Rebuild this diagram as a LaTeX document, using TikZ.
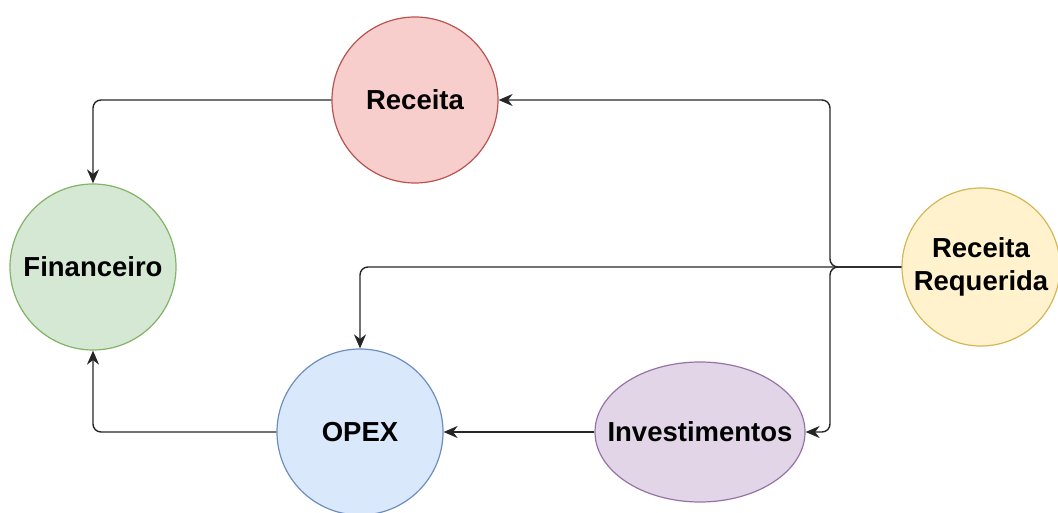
\documentclass[tikz,border=0pt]{standalone}
\usepackage{fontspec}
\setmainfont{Liberation Sans}
\usetikzlibrary{shapes.geometric,arrows.meta}

\definecolor{redfill}{HTML}{F8CECC}\definecolor{redline}{HTML}{B85450}
\definecolor{greenfill}{HTML}{D5E8D4}\definecolor{greenline}{HTML}{82B366}
\definecolor{bluefill}{HTML}{DAE8FC}\definecolor{blueline}{HTML}{6C8EBF}
\definecolor{purplefill}{HTML}{E1D5E7}\definecolor{purpleline}{HTML}{9673A6}
\definecolor{yellowfill}{HTML}{FFF2CC}\definecolor{yellowline}{HTML}{D6B656}

\tikzset{
  labelfont/.style={font=\fontsize{27.5}{33}\selectfont\bfseries},
  bubble/.style={circle, inner sep=0pt, line width=1.2pt, minimum size=166pt,
    align=center, labelfont},
  oval/.style={ellipse, inner sep=0pt, line width=1.2pt,
    minimum width=210pt, minimum height=140pt},
  link/.style={line width=1.4pt, draw=black!85,
    -{Stealth[length=14pt,width=12pt,inset=4.5pt]}}
}

\begin{document}
\begin{tikzpicture}[x=1pt,y=-1pt]
  \useasboundingbox (0,0) rectangle (1058,513);

  \node[bubble, fill=redfill, draw=redline] (rec) at (415,100) {Receita};
  \node[bubble, fill=greenfill, draw=greenline] (fin) at (93,267) {Financeiro};
  \node[bubble, fill=bluefill, draw=blueline] (opex) at (360,432) {OPEX};
  \node[oval, fill=purplefill, draw=purpleline] (inv) at (700,432) {};
  \node[labelfont] (invtext) at (inv.center) {Investimentos};
  \node[bubble, fill=yellowfill, draw=yellowline, minimum size=158pt] (rr) at (981,267) {Receita\\Requerida};

  % branching lines from Receita Requerida
  \draw[link] (rr.west) [rounded corners=8pt]-- (opex.north |- rr.west) [sharp corners]-- (opex.north);
  \draw[link] (rr.west) [rounded corners=8pt]-- (830,267) -- (830,100) [sharp corners]-- (rec.east);
  \draw[link] (rr.west) [rounded corners=8pt]-- (830,267) -- (830,432) [sharp corners]-- (inv.east);

  % flows towards Financeiro
  \draw[link] (rec.west) [rounded corners=8pt]-- (fin.north |- rec.west) [sharp corners]-- (fin.north);
  \draw[link] (opex.west) [rounded corners=8pt]-- (fin.south |- opex.west) [sharp corners]-- (fin.south);
  \draw[link] (inv.west) -- (opex.east);
\end{tikzpicture}
\end{document}
